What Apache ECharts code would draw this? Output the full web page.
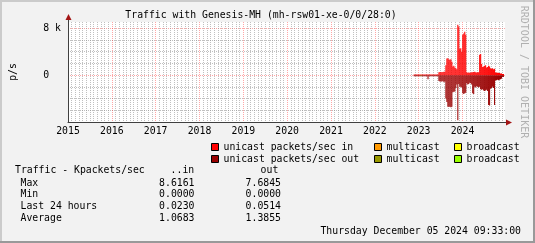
<!DOCTYPE html>
<html><head><meta charset="utf-8">
<script src="https://cdn.jsdelivr.net/npm/echarts@6/dist/echarts.min.js"></script>
<style>html,body{margin:0;padding:0;background:#f2f2f2}#c{width:535px;height:243px}</style>
</head><body><div id="c"></div>
<script>
// ---- data ----
const titleText = 'Traffic with Genesis-MH (mh-rsw01-xe-0/0/28:0)';
const xTickLabels = ['2015','2016','2017','2018','2019','2020','2021','2022','2023','2024'];
const yTickLabels = {'8000': '8 k', '0': '0  '};
const dataStartYear = 2022.8967;  // time of first sample (decimal year)
const sampleStep = 0.022659;      // years per sample
// unicast packets/sec in
const unicastIn = [
 100,100,100,100,100,100,100,100,100,100,100,100,100,100,
 100,
 100,100,100,100,100,100,100,100,100,100,
 500,550,550,500,550,600,600,
 1700,2850,2900,2700,2600,2700,2300,
 1500,1600,1300,1200,1000,
 8616,8300,
 4500,4600,4000,6900,7100,7400,6900,
 500,400,450,400,450,500,500,550,600,500,450,500,500,
 3500,3600,
 1900,1400,1500,1600,1700,1300,1400,1600,1500,1200,1100,1200,1000,1100,
 450,450,400,400,350,300,300,200,200
];
// unicast packets/sec out
const unicastOut = [
 170,170,170,170,170,170,170,170,170,170,170,170,170,170,
 700,
 170,170,170,170,170,170,170,170,170,170,
 1000,1100,1100,1100,1000,1200,1100,
 4000,4600,5400,5400,5400,5500,5400,
 2900,2850,2800,2200,1600,
 7684,1500,
 2000,2000,2100,3100,3200,3100,3000,
 1400,1600,1500,1300,1400,1600,3100,3200,2000,2100,1900,2000,2100,
 2000,2400,
 2500,2400,2600,2700,2600,2500,2700,5100,5200,2300,2200,2000,2200,5100,
 900,850,800,850,800,700,600,300,300
];
const multicastOut = [
 0,0,0,0,0,0,0,150,0,0,0,0,0,0,
 0,
 0,0,0,0,0,0,0,0,0,0,
 0,0,0,0,0,0,0,
 0,0,0,0,0,0,0,
 0,0,0,0,0,
 0,0,
 0,0,0,0,0,0,0,
 0,0,0,0,0,0,0,0,0,0,0,0,0,
 0,0,
 0,0,0,0,0,0,0,0,0,0,0,0,0,0,
 0,0,0,0,0,0,0,0,0
];
const multicastIn = [];
const broadcastIn = [];
const broadcastOut = [];
const statRows = ['Max', 'Min', 'Last 24 hours', 'Average'];
const statIn = ['8.6161', '0.0000', '0.0230', '1.0683'];
const statOut = ['7.6845', '0.0000', '0.0514', '1.3855'];
const dateText = 'Thursday December 05 2024 09:33:00';
const watermark = 'RRDTOOL / TOBI OETIKER';

// ---- chart ----
const FONT = '"DejaVu Sans Mono", monospace';
const FS = 9.8;
const f = s => (s || FS) + 'px ' + FONT;
const toSeries = (arr, sign) => arr.map((v, i) => [dataStartYear + i * sampleStep, sign * v]);

const colors = {
  uin: '#ff0000', min: '#ff9900', bin: '#ffff00',
  uout: '#990000', mout: '#999900', bout: '#99ff00'
};
function barSeries(name, data, color) {
  return {
    name, type: 'bar', data, stack: 'traffic', barWidth: 1.05, barGap: '-100%', silent: true,
    itemStyle: { color }, animation: false
  };
}
const legendCommon = {
  padding: 0, itemWidth: 7, itemHeight: 7, icon: 'rect', selectedMode: false,
  itemStyle: { borderColor: '#000', borderWidth: 1 },
  textStyle: { fontFamily: FONT, fontSize: FS, color: '#000', lineHeight: 12 },
  formatter: n => n.startsWith('unicast') ? n : n.replace(/ (in|out)$/, '')
};
const legendItems = [
  ['unicast packets/sec in', 211, 141], ['multicast in', 374, 141], ['broadcast in', 454, 141],
  ['unicast packets/sec out', 211, 153], ['multicast out', 374, 153], ['broadcast out', 454, 153]
];

const chart = echarts.init(document.getElementById('c'), null, { renderer: 'canvas' });
const gridLeft = 65, gridTop = 22, gridW = 440, gridH = 100;
const GREY = 'rgba(140,140,140,0.55)', RED = 'rgba(255,0,0,0.35)';
chart.setOption({
  backgroundColor: '#f2f2f2',
  animation: false,
  grid: { left: gridLeft, top: gridTop, width: gridW, height: gridH, show: true, backgroundColor: '#fff', borderWidth: 0 },
  xAxis: {
    type: 'value', min: 2015, max: 2024.97, interval: 1,
    axisLine: { show: true, onZero: false, lineStyle: { color: '#404040', width: 1 } },
    axisTick: { show: false },
    axisLabel: {
      color: '#000', fontFamily: FONT, fontSize: FS, margin: 4,
      formatter: v => (Number.isInteger(v) && xTickLabels.indexOf(String(v)) >= 0) ? String(v) : ''
    },
    splitLine: { show: true, showMaxLine: false, lineStyle: { color: RED, type: [1, 1] } },
    minorTick: { show: false, splitNumber: 12 },
    minorSplitLine: { show: true, lineStyle: { color: GREY, type: [1, 1] } }
  },
  yAxis: {
    type: 'value', min: -8000, max: 9080, interval: 2000,
    axisLine: { show: true, onZero: false, lineStyle: { color: '#404040', width: 1 } },
    axisTick: { show: false },
    axisLabel: {
      color: '#000', fontFamily: FONT, fontSize: FS, margin: 7,
      formatter: v => yTickLabels[String(v)] || ''
    },
    splitLine: { show: true, showMaxLine: false, lineStyle: {
      color: [RED, GREY, GREY, GREY], type: [1, 1] } },
    name: 'p/s', nameLocation: 'middle', nameGap: 50, nameRotate: 90,
    nameTextStyle: { color: '#000', fontFamily: FONT, fontSize: FS }
  },
  legend: legendItems.map(([n, l, t]) => Object.assign({}, legendCommon, { data: [n], left: l, top: t })),
  series: [
    barSeries('unicast packets/sec in', toSeries(unicastIn, 1), colors.uin),
    barSeries('multicast in', toSeries(multicastIn, 1), colors.min),
    barSeries('broadcast in', toSeries(broadcastIn, 1), colors.bin),
    barSeries('unicast packets/sec out', toSeries(unicastOut, -1), colors.uout),
    barSeries('multicast out', toSeries(multicastOut, -1), colors.mout),
    barSeries('broadcast out', toSeries(broadcastOut, -1), colors.bout)
  ]
});

// decorations: frame, texts, axis arrows
const origin = chart.convertToPixel({ gridIndex: 0 }, [2015, -8000]);
const xEnd = gridLeft + gridW, yEnd = gridTop;
const ax = Math.round(origin[0]) + 0.5, ay = Math.round(origin[1]) + 0.5;
const txt = (text, x, y, align, extra) => Object.assign({
  type: 'text', x, y, silent: true,
  style: { text, x: 0, y: 0, fill: '#000', font: f(), align, verticalAlign: 'middle', textAlign: align, textVerticalAlign: 'middle' }
}, extra || {});
const graphics = [
  { type: 'rect', shape: { x: 0, y: 0, width: 535, height: 2 }, style: { fill: '#cbcbcb' }, silent: true },
  { type: 'rect', shape: { x: 0, y: 0, width: 2, height: 243 }, style: { fill: '#cbcbcb' }, silent: true },
  { type: 'rect', shape: { x: 533, y: 0, width: 2, height: 243 }, style: { fill: '#999999' }, silent: true },
  { type: 'rect', shape: { x: 0, y: 241, width: 535, height: 2 }, style: { fill: '#999999' }, silent: true },
  { type: 'line', shape: { x1: ax, y1: yEnd, x2: ax, y2: yEnd - 2 }, style: { stroke: '#404040', lineWidth: 1 }, silent: true },
  { type: 'line', shape: { x1: xEnd, y1: ay, x2: xEnd + 2, y2: ay }, style: { stroke: '#404040', lineWidth: 1 }, silent: true },
  { type: 'polygon', shape: { points: [[ax, yEnd - 8], [ax - 3, yEnd - 2], [ax + 3, yEnd - 2]] }, style: { fill: '#a31515' }, silent: true },
  { type: 'polygon', shape: { points: [[xEnd + 7, ay], [xEnd + 1, ay - 3], [xEnd + 1, ay + 3]] }, style: { fill: '#a31515' }, silent: true },
  txt(titleText, 261, 15.5, 'center'),
  txt(watermark, 524, 72, 'center', { rotation: -Math.PI / 2, style: { text: watermark, x: 0, y: 0, fill: '#b0b0b0', font: f(10), align: 'center', verticalAlign: 'middle', textAlign: 'center', textVerticalAlign: 'middle' } }),
  txt('Traffic - Kpackets/sec', 15, 170.7, 'left'),
  txt('..in', 194.2, 170.7, 'right'),
  txt('out', 278.3, 170.7, 'right'),
  txt(dateText, 521, 231.5, 'right')
];
const rowY = [183.3, 194.7, 206.3, 218.7];
statRows.forEach((r, i) => {
  graphics.push(txt(r, 20.5, rowY[i], 'left'));
  graphics.push(txt(statIn[i], 194.5, rowY[i], 'right'));
  graphics.push(txt(statOut[i], 281, rowY[i], 'right'));
});
chart.setOption({ graphic: graphics });
</script></body></html>
